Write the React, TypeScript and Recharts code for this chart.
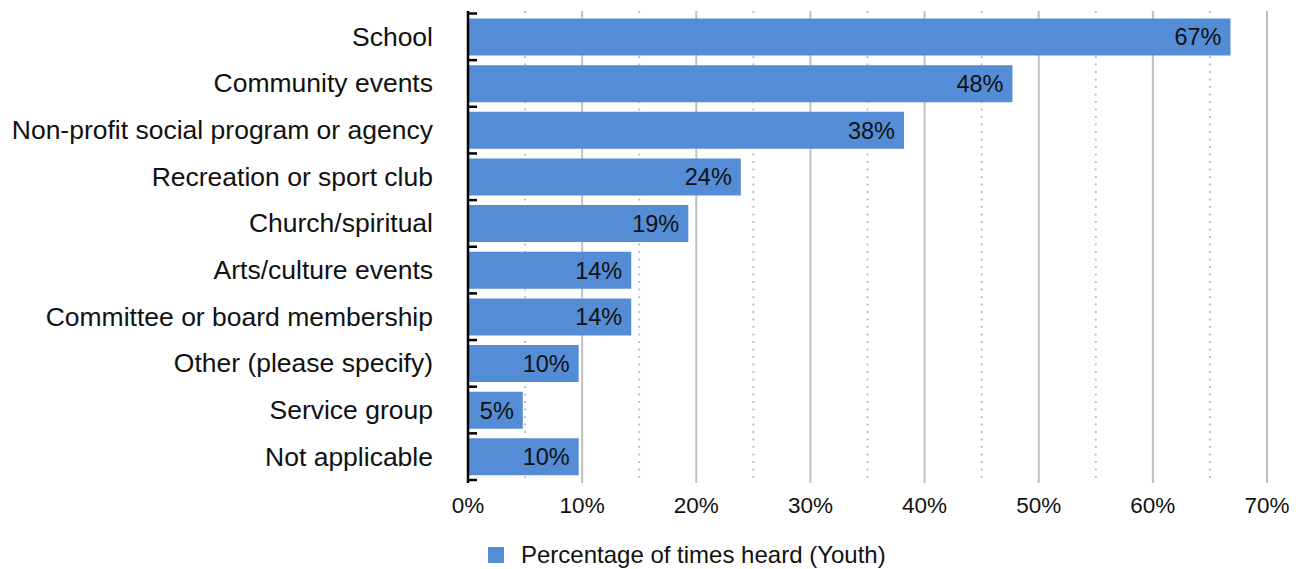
import {
  Bar,
  BarChart,
  CartesianGrid,
  LabelList,
  Legend,
  XAxis,
  YAxis,
} from "recharts";

const CATEGORIES = [
  "School",
  "Community events",
  "Non-profit social program or agency",
  "Recreation or sport club",
  "Church/spiritual",
  "Arts/culture events",
  "Committee or board membership",
  "Other (please specify)",
  "Service group",
  "Not applicable",
];
const VALUES = [66.8, 47.7, 38.2, 23.9, 19.3, 14.3, 14.3, 9.7, 4.8, 9.7];
const X_TICKS = [0, 10, 20, 30, 40, 50, 60, 70];
const MINOR_GRID = [5, 15, 25, 35, 45, 55, 65];
const SERIES_NAME = "Percentage of times heard (Youth)";

const data = CATEGORIES.map((name, i) => ({ name, value: VALUES[i] }));

const W = 1296;
const H = 569;
const AXIS_X = 468;
const PAD_TOP = 2.5;
const PAD_BOTTOM = 3;
const PLOT_TOP = 11;
const PLOT_BOTTOM = 483;
const BAND = (PLOT_BOTTOM - PLOT_TOP - PAD_TOP - PAD_BOTTOM) / CATEGORIES.length;
const FONT = '"Liberation Sans", Arial, sans-serif';
const BLUE = "#548dd5";
const GRID = "#c0c0c0";

function CategoryTick(props: any) {
  const { y, payload } = props;
  const last = payload.value === CATEGORIES[CATEGORIES.length - 1];
  return (
    <g>
      <text
        x={AXIS_X - 35}
        y={y}
        textAnchor="end"
        dominantBaseline="central"
        fontSize={26.5}
        fontFamily={FONT}
        fill="#111"
      >
        {payload.value}
      </text>
      <line x1={AXIS_X} x2={AXIS_X + 9} y1={y - BAND / 2} y2={y - BAND / 2} stroke="#000" strokeWidth={2.5} />
      {last && (
        <line x1={AXIS_X} x2={AXIS_X + 9} y1={y + BAND / 2} y2={y + BAND / 2} stroke="#000" strokeWidth={2.5} />
      )}
    </g>
  );
}

function LegendBox() {
  return (
    <div
      style={{
        height: 26,
        display: "flex",
        alignItems: "center",
        paddingLeft: 488,
        fontFamily: FONT,
        fontSize: 24,
        color: "#111",
      }}
    >
      <span style={{ width: 16, height: 16, background: BLUE, marginRight: 17, display: "inline-block" }} />
      <span>{SERIES_NAME}</span>
    </div>
  );
}

export default function App() {
  return (
    <div style={{ position: "absolute", left: 0, top: 0, background: "#fff" }}>
      <BarChart
        width={W}
        height={H}
        data={data}
        layout="vertical"
        margin={{ top: PLOT_TOP, right: W - 1267, bottom: 1, left: 0 }}
      >
        <CartesianGrid horizontal={false} stroke={GRID} strokeWidth={2} />
        {/* dotted half-step lines */}
        <CartesianGrid
          horizontal={false}
          verticalValues={MINOR_GRID}
          stroke={GRID}
          strokeWidth={2}
          strokeDasharray="2 5.5"
        />
        <XAxis
          type="number"
          domain={[0, 70]}
          ticks={X_TICKS}
          tickFormatter={(v: number) => `${v}%`}
          axisLine={false}
          tickLine={false}
          tickMargin={8}
          height={H - PLOT_BOTTOM - 1 - 26}
          tick={{ fill: "#111", fontSize: 22.5, fontFamily: FONT }}
          interval={0}
        />
        <YAxis
          type="category"
          dataKey="name"
          width={AXIS_X}
          padding={{ top: PAD_TOP, bottom: PAD_BOTTOM }}
          axisLine={{ stroke: "#000", strokeWidth: 2.5 }}
          tickLine={false}
          tick={<CategoryTick />}
          interval={0}
        />
        <Legend verticalAlign="bottom" content={() => <LegendBox />} />
        <Bar dataKey="value" name={SERIES_NAME} fill={BLUE} barSize={37} isAnimationActive={false}>
          <LabelList
            dataKey="value"
            position="insideRight"
            offset={9}
            formatter={(v: any) => `${Math.round(Number(v))}%`}
            style={{ fill: "#111", fontSize: 23.5, fontFamily: FONT }}
          />
        </Bar>
      </BarChart>
    </div>
  );
}
